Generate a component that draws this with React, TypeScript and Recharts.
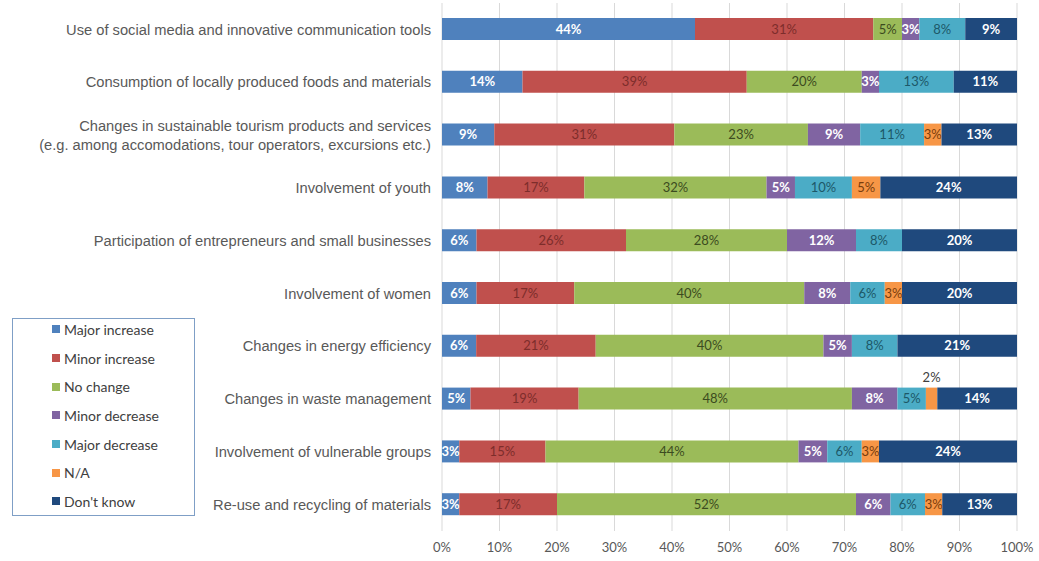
import React from 'react';
import { BarChart, Bar, XAxis, YAxis, CartesianGrid, LabelList } from 'recharts';

const categories = [
  'Use of social media and innovative communication tools',
  'Consumption of locally produced foods and materials',
  'Changes in sustainable tourism products and services\n(e.g. among accomodations, tour operators, excursions etc.)',
  'Involvement of youth',
  'Participation of entrepreneurs and small businesses',
  'Involvement of women',
  'Changes in energy efficiency',
  'Changes in waste management',
  'Involvement of vulnerable groups',
  'Re-use and recycling of materials',
];

const majorIncrease = [44, 14, 9, 8, 6, 6, 6, 5, 3, 3];
const minorIncrease = [31, 39, 31, 17, 26, 17, 21, 19, 15, 17];
const noChange = [5, 20, 23, 32, 28, 40, 40, 48, 44, 52];
const minorDecrease = [3, 3, 9, 5, 12, 8, 5, 8, 5, 6];
const majorDecrease = [8, 13, 11, 10, 8, 6, 8, 5, 6, 6];
const notApplicable = [0, 0, 3, 5, 0, 3, 0, 2, 3, 3];
const dontKnow = [9, 11, 13, 24, 20, 20, 21, 14, 24, 13];

const xTicks = [0, 0.1, 0.2, 0.3, 0.4, 0.5, 0.6, 0.7, 0.8, 0.9, 1];

const series = [
  { key: 'major', name: 'Major increase', color: '#4f81bd', label: '#ffffff', bold: true },
  { key: 'minor', name: 'Minor increase', color: '#c0504d', label: '#7d2d2b', bold: false },
  { key: 'none', name: 'No change', color: '#9bbb59', label: '#3c4b20', bold: false },
  { key: 'minorDec', name: 'Minor decrease', color: '#8064a2', label: '#ffffff', bold: true },
  { key: 'majorDec', name: 'Major decrease', color: '#4bacc6', label: '#1d5868', bold: false },
  { key: 'na', name: 'N/A', color: '#f79646', label: '#7a3d0c', bold: false },
  { key: 'dk', name: "Don't know", color: '#1f497d', label: '#ffffff', bold: true },
];

const data = categories.map((name, i) => ({
  name,
  major: majorIncrease[i],
  minor: minorIncrease[i],
  none: noChange[i],
  minorDec: minorDecrease[i],
  majorDec: majorDecrease[i],
  na: notApplicable[i],
  dk: dontKnow[i],
}));

const labelFont = 'Lato, "Open Sans", sans-serif';

function CategoryTick(props: any) {
  const { x, y, payload } = props;
  const lines = String(payload.value).split('\n');
  const lh = 19;
  const start = y - ((lines.length - 1) * lh) / 2;
  return (
    <text x={x - 3} y={start} textAnchor="end" fill="#595959" fontSize={14.7}
      fontFamily='"Liberation Sans", Arial, sans-serif'>
      {lines.map((l, i) => (
        <tspan key={i} x={x - 3} y={start + i * lh} dy="0.35em">{l}</tspan>
      ))}
    </text>
  );
}

function makeLabel(color: string, bold: boolean) {
  return (props: any) => {
    const { x, y, width, height, value } = props;
    if (!value) return null;
    if (value <= 2) {
      return (
        <text x={x + width / 2} y={y - 10} dy="0.35em" textAnchor="middle" fill="#404040" fontSize={13}
          fontFamily={labelFont}>{value}%</text>
      );
    }
    return (
      <text x={x + width / 2} y={y + height / 2} dy="0.36em" textAnchor="middle" fill={color}
        fontSize={13} fontWeight={bold ? 700 : 400} fontFamily={labelFont}>{value}%</text>
    );
  };
}

function LegendBox() {
  return (
    <div style={{ position: 'absolute', left: 12, top: 318, border: '1px solid #7f9fc6', width: 181, height: 196 }}>
      <div style={{ marginTop: -4 }}>
        {series.map((s) => (
          <div key={s.key} style={{ height: 28.7, display: 'flex', alignItems: 'center', paddingLeft: 39 }}>
            <span style={{ width: 8, height: 8, background: s.color, display: 'inline-block', marginRight: 4 }} />
            <span style={{ fontFamily: labelFont, fontSize: 14, color: '#404040' }}>{s.name}</span>
          </div>
        ))}
      </div>
    </div>
  );
}

export default function App() {
  return (
    <div style={{ position: 'absolute', left: 0, top: 0, width: 1039, height: 561, background: '#fff' }}>
      <BarChart width={1039} height={561} data={data} layout="vertical" stackOffset="expand"
        margin={{ top: 3, right: 22, left: 0, bottom: 0 }} barSize={22}>
        <CartesianGrid horizontal={false} stroke="#d9d9d9" />
        <XAxis type="number" domain={[0, 1]} ticks={xTicks} axisLine={false} tickLine={false}
          tickMargin={6} height={30} interval={0}
          tickFormatter={(v: number) => `${Math.round(v * 100)}%`}
          tick={{ fill: '#595959', fontSize: 13, fontFamily: labelFont }} />
        <YAxis type="category" dataKey="name" width={442} axisLine={false} tickLine={false}
          interval={0} tick={<CategoryTick />} />
        {series.map((s) => (
          <Bar key={s.key} dataKey={s.key} name={s.name} stackId="a" fill={s.color} isAnimationActive={false}>
            <LabelList dataKey={s.key} content={makeLabel(s.label, s.bold)} />
          </Bar>
        ))}
      </BarChart>
      <LegendBox />
    </div>
  );
}
